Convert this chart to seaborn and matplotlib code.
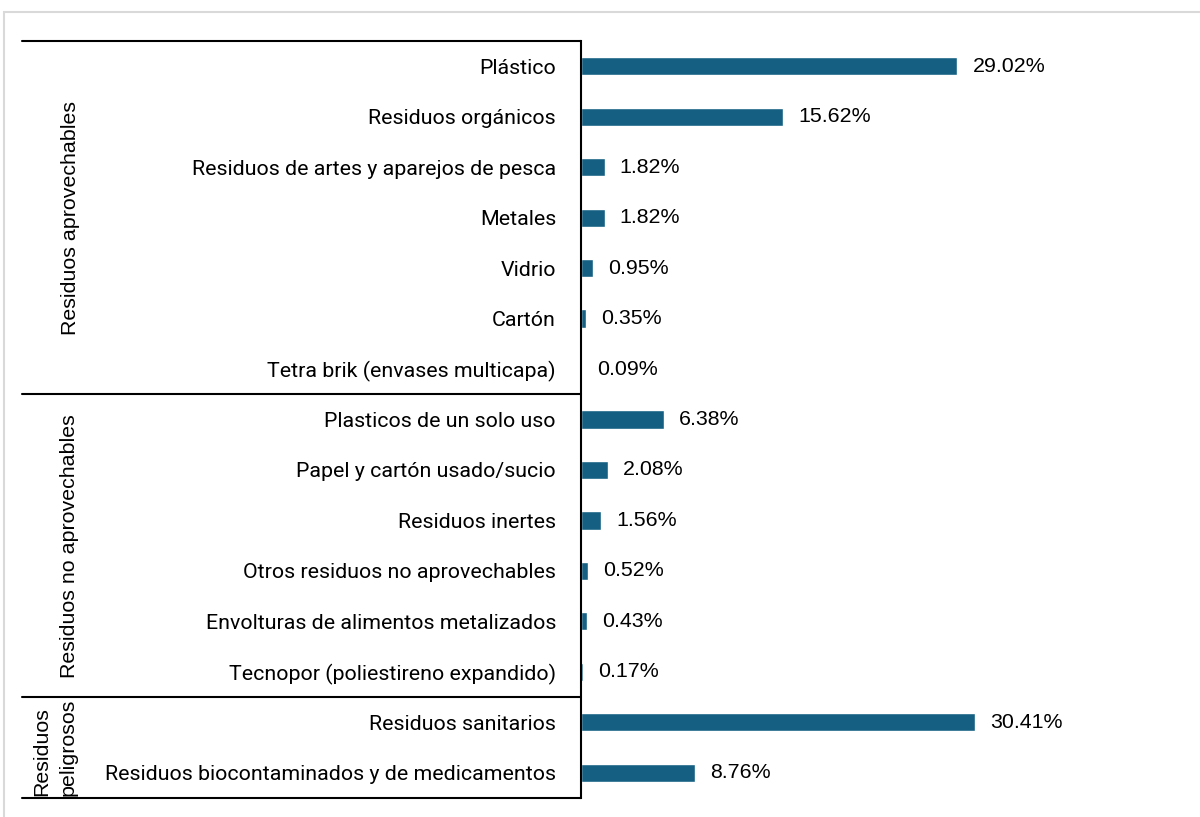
import matplotlib
matplotlib.use("Agg")
import matplotlib.pyplot as plt
import matplotlib.transforms as mtransforms
from matplotlib.patches import Rectangle
import seaborn as sns
import pandas as pd

# data
aprovechables = ["Plástico", "Residuos orgánicos", "Residuos de artes y aparejos de pesca",
                 "Metales", "Vidrio", "Cartón", "Tetra brik (envases multicapa)"]
aprovechables_pct = [29.02, 15.62, 1.82, 1.82, 0.95, 0.35, 0.09]

no_aprovechables = ["Plasticos de un solo uso", "Papel y cartón usado/sucio", "Residuos inertes",
                    "Otros residuos no aprovechables", "Envolturas de alimentos metalizados",
                    "Tecnopor (poliestireno expandido)"]
no_aprovechables_pct = [6.38, 2.08, 1.56, 0.52, 0.43, 0.17]

peligrosos = ["Residuos sanitarios", "Residuos biocontaminados y de medicamentos"]
peligrosos_pct = [30.41, 8.76]

group_names = ["Residuos aprovechables", "Residuos no aprovechables", "Residuos\npeligrosos"]

df = pd.DataFrame({
    "residuo": aprovechables + no_aprovechables + peligrosos,
    "pct": aprovechables_pct + no_aprovechables_pct + peligrosos_pct,
})

sns.set_style("white")
plt.rcParams["font.family"] = ["Roboto", "DejaVu Sans"]
arial = ["Liberation Sans", "DejaVu Sans"]
fs = 15.4

fig = plt.figure(figsize=(12, 8.17), dpi=100)
# light grey chart-area frame
fig.patches.append(Rectangle((4 / 1200, -0.01), 1.0, 1 - 12 / 817 + 0.01,
                             transform=fig.transFigure, fill=False,
                             edgecolor="#d9d9d9", linewidth=1.5))

ax = fig.add_axes([581 / 1200, 19 / 817, 600 / 1200, 757 / 817])
sns.barplot(data=df, x="pct", y="residuo", color="#156082", width=0.36,
            orient="h", ax=ax, saturation=1)

ax.set_xlim(0, 600 / 12.96)
ax.set_ylim(len(df) - 0.5, -0.5)
ax.set_xlabel("")
ax.set_ylabel("")
ax.set_xticks([])
ax.tick_params(axis="y", length=0, pad=18, labelsize=fs, labelcolor="black")
for s in ["top", "right", "bottom"]:
    ax.spines[s].set_visible(False)
ax.spines["left"].set_color("black")
ax.spines["left"].set_linewidth(1.5)

ax.bar_label(ax.containers[0], labels=[f"{v:.2f}%" for v in df["pct"]],
             padding=11, fontsize=fs, family=arial, color="black")

# group brackets on the left
tr = mtransforms.blended_transform_factory(fig.transFigure, ax.transData)
x0, x1 = 22 / 1200, 581 / 1200
sizes = [len(aprovechables), len(no_aprovechables), len(peligrosos)]
edges = [-0.5]
for n in sizes:
    edges.append(edges[-1] + n)
for e in edges:
    ax.plot([x0, x1], [e, e], transform=tr, color="black", lw=1.5, clip_on=False)

label_x = [70 / 1200, 70 / 1200, 55 / 1200]
for name, lx, a, b in zip(group_names, label_x, edges[:-1], edges[1:]):
    ax.text(lx, (a + b) / 2, name, transform=tr, rotation=90, ha="center",
            va="center", fontsize=fs, linespacing=1.5, multialignment="left",
            family=arial, color="black")

fig.savefig("out.png", dpi=100)
